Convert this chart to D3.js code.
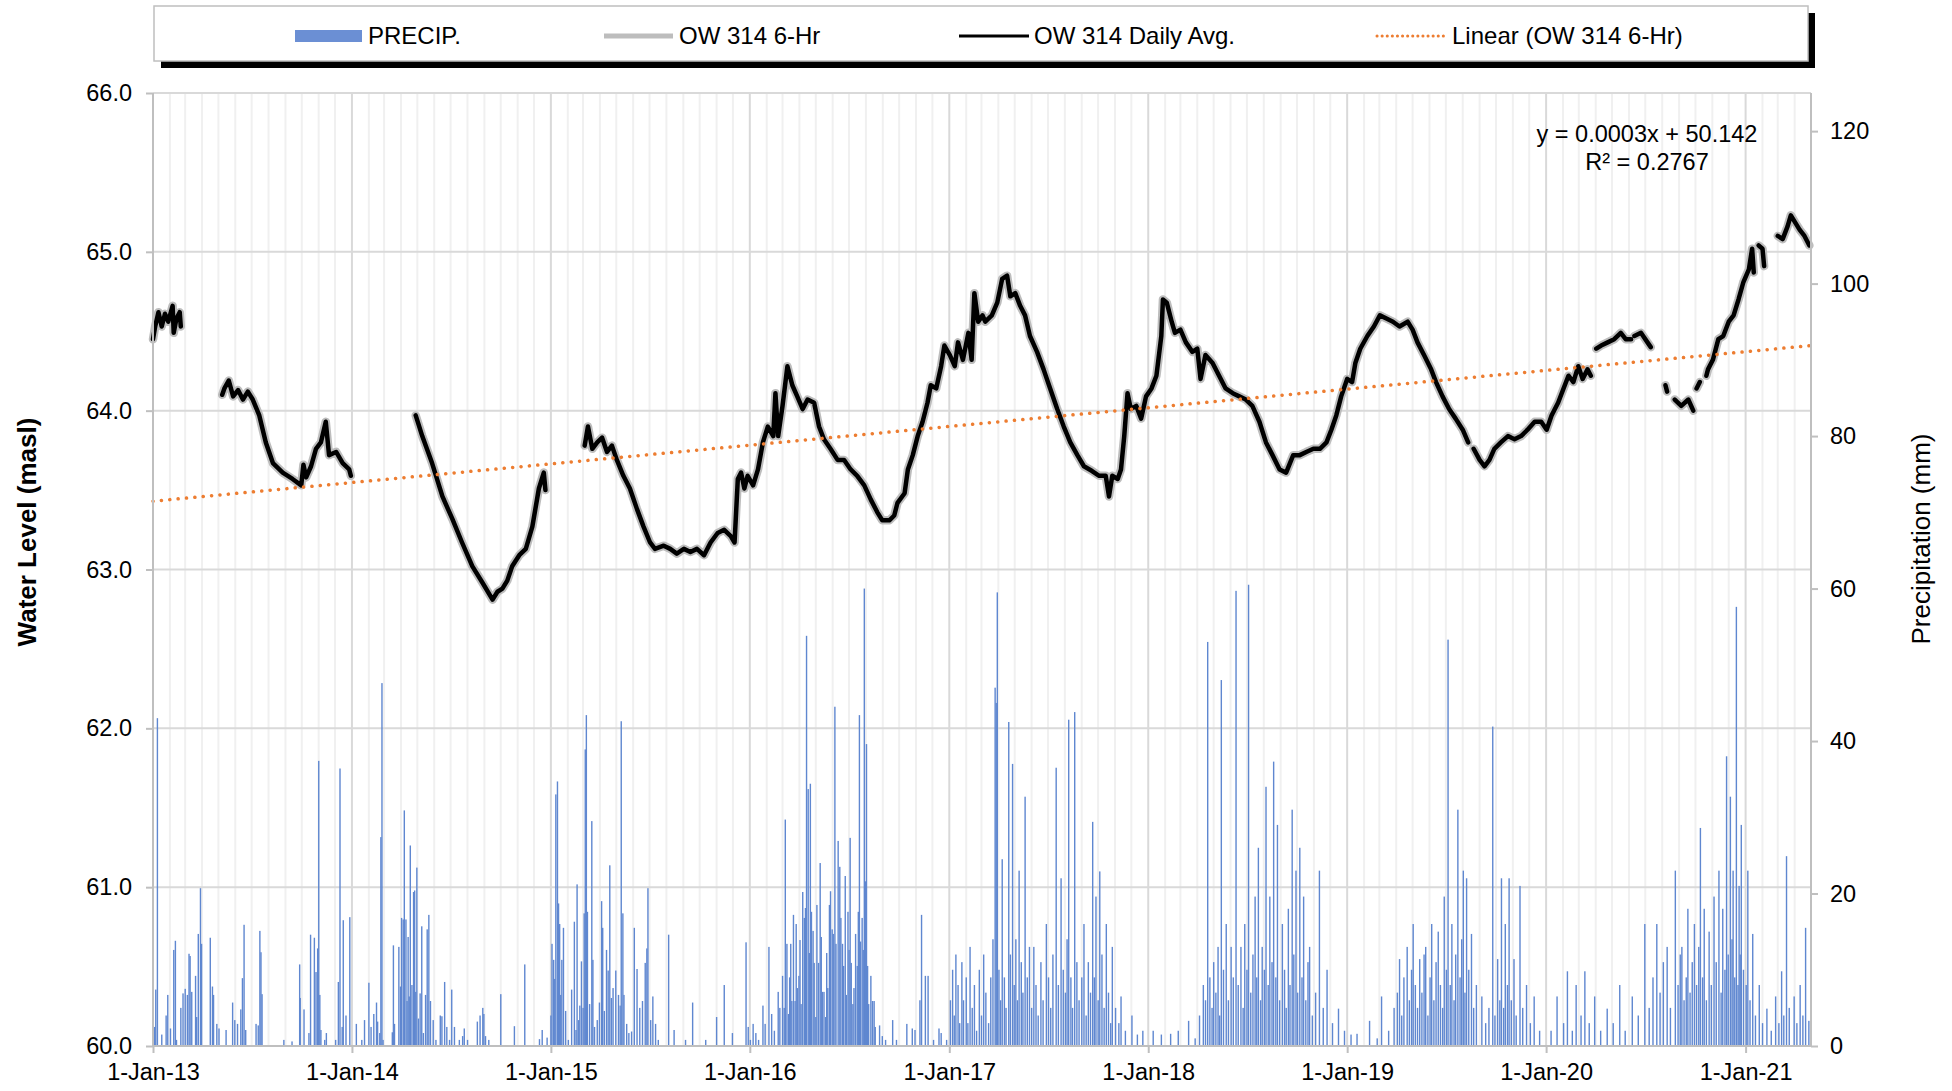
<!DOCTYPE html>
<html>
<head>
<meta charset="utf-8">
<script src="https://cdn.jsdelivr.net/npm/d3@7"></script>
<style>
html,body{margin:0;padding:0;background:#fff;}
svg{display:block;}
</style>
</head>
<body>
<svg id="chart" width="1952" height="1091"></svg>
<script>
// ---------------- DATA ----------------
// Water level, OW 314 daily average (masl); null = data gap
const owDaily = [
["2013-01-01",64.45],["2013-01-05",64.53],["2013-01-11",64.62],["2013-01-17",64.53],["2013-01-23",64.61],["2013-01-29",64.56],["2013-02-06",64.66],["2013-02-08",64.49],["2013-02-13",64.58],["2013-02-19",64.62],["2013-02-21",64.53],["2013-02-22",null],
["2013-05-08",64.10],["2013-05-12",64.14],["2013-05-20",64.19],["2013-05-28",64.09],["2013-06-06",64.13],["2013-06-15",64.07],["2013-06-24",64.12],["2013-07-03",64.07],["2013-07-15",63.97],["2013-07-27",63.80],["2013-08-09",63.67],["2013-08-27",63.61],["2013-09-14",63.57],["2013-09-30",63.53],["2013-10-04",63.66],["2013-10-09",63.58],["2013-10-18",63.65],["2013-10-27",63.76],["2013-11-05",63.80],["2013-11-14",63.93],["2013-11-20",63.72],["2013-12-03",63.74],["2013-12-15",63.67],["2013-12-27",63.63],["2013-12-30",63.59],["2013-12-31",null],
["2014-04-28",63.97],["2014-05-10",63.84],["2014-05-28",63.67],["2014-06-16",63.46],["2014-07-04",63.32],["2014-07-22",63.17],["2014-08-10",63.02],["2014-08-28",62.92],["2014-09-16",62.81],["2014-09-25",62.86],["2014-10-04",62.88],["2014-10-13",62.93],["2014-10-22",63.02],["2014-11-04",63.09],["2014-11-16",63.13],["2014-11-28",63.27],["2014-12-10",63.51],["2014-12-19",63.61],["2014-12-22",63.50],["2014-12-23",null],
["2015-03-04",63.78],["2015-03-10",63.90],["2015-03-18",63.76],["2015-03-27",63.80],["2015-04-05",63.83],["2015-04-14",63.74],["2015-04-23",63.78],["2015-05-02",63.69],["2015-05-14",63.59],["2015-05-26",63.51],["2015-06-08",63.38],["2015-06-20",63.27],["2015-07-02",63.17],["2015-07-11",63.13],["2015-07-27",63.15],["2015-08-08",63.13],["2015-08-20",63.10],["2015-09-02",63.13],["2015-09-14",63.11],["2015-09-26",63.13],["2015-10-09",63.09],["2015-10-21",63.17],["2015-11-03",63.23],["2015-11-15",63.25],["2015-11-27",63.21],["2015-12-04",63.17],["2015-12-10",63.57],["2015-12-16",63.61],["2015-12-22",63.51],["2015-12-28",63.59],
["2016-01-07",63.53],["2016-01-16",63.63],["2016-01-25",63.80],["2016-02-03",63.90],["2016-02-13",63.84],["2016-02-17",64.11],["2016-02-22",63.84],["2016-03-01",64.03],["2016-03-10",64.28],["2016-03-19",64.16],["2016-03-28",64.09],["2016-04-07",64.01],["2016-04-16",64.07],["2016-04-28",64.05],["2016-05-07",63.90],["2016-05-16",63.82],["2016-05-28",63.76],["2016-06-10",63.69],["2016-06-22",63.69],["2016-07-04",63.63],["2016-07-16",63.59],["2016-07-29",63.53],["2016-08-10",63.44],["2016-08-22",63.36],["2016-08-31",63.31],["2016-09-13",63.31],["2016-09-22",63.34],["2016-09-28",63.42],["2016-10-11",63.48],["2016-10-17",63.63],["2016-10-26",63.72],["2016-11-04",63.84],["2016-11-13",63.93],["2016-11-22",64.05],["2016-11-28",64.16],["2016-12-08",64.14],["2016-12-17",64.28],["2016-12-23",64.41],
["2017-01-02",64.35],["2017-01-11",64.28],["2017-01-17",64.43],["2017-01-26",64.32],["2017-02-05",64.49],["2017-02-11",64.32],["2017-02-16",64.74],["2017-02-23",64.56],["2017-03-03",64.60],["2017-03-08",64.56],["2017-03-20",64.60],["2017-03-30",64.68],["2017-04-08",64.83],["2017-04-17",64.85],["2017-04-23",64.72],["2017-05-02",64.74],["2017-05-11",64.66],["2017-05-20",64.60],["2017-05-29",64.47],["2017-06-11",64.37],["2017-06-23",64.26],["2017-07-05",64.14],["2017-07-18",64.01],["2017-07-30",63.90],["2017-08-11",63.80],["2017-08-24",63.72],["2017-09-05",63.65],["2017-09-20",63.62],["2017-10-03",63.59],["2017-10-15",63.59],["2017-10-21",63.46],["2017-10-27",63.59],["2017-11-06",63.57],["2017-11-12",63.63],["2017-11-18",63.84],["2017-11-24",64.11],["2017-11-30",64.01],["2017-12-10",64.03],["2017-12-19",63.95],["2017-12-28",64.09],
["2018-01-07",64.14],["2018-01-16",64.22],["2018-01-25",64.47],["2018-01-28",64.70],["2018-02-04",64.68],["2018-02-13",64.56],["2018-02-19",64.49],["2018-03-01",64.51],["2018-03-11",64.43],["2018-03-23",64.37],["2018-04-01",64.39],["2018-04-07",64.20],["2018-04-16",64.35],["2018-04-29",64.30],["2018-05-11",64.22],["2018-05-23",64.14],["2018-06-05",64.11],["2018-06-17",64.09],["2018-06-29",64.07],["2018-07-11",64.03],["2018-07-24",63.93],["2018-08-05",63.80],["2018-08-17",63.72],["2018-08-30",63.63],["2018-09-11",63.61],["2018-09-24",63.72],["2018-10-06",63.72],["2018-10-18",63.74],["2018-10-31",63.76],["2018-11-12",63.76],["2018-11-24",63.80],["2018-12-03",63.88],["2018-12-12",63.97],["2018-12-21",64.09],
["2019-01-01",64.20],["2019-01-10",64.18],["2019-01-16",64.30],["2019-01-25",64.39],["2019-02-07",64.47],["2019-02-19",64.53],["2019-03-02",64.60],["2019-03-14",64.58],["2019-03-26",64.56],["2019-04-07",64.53],["2019-04-22",64.56],["2019-05-01",64.51],["2019-05-10",64.43],["2019-05-22",64.35],["2019-06-04",64.26],["2019-06-13",64.18],["2019-06-25",64.09],["2019-07-07",64.01],["2019-07-19",63.95],["2019-08-01",63.88],["2019-08-11",63.80],["2019-08-14",null],
["2019-08-21",63.76],["2019-09-01",63.69],["2019-09-10",63.65],["2019-09-19",63.69],["2019-09-28",63.76],["2019-10-10",63.80],["2019-10-23",63.84],["2019-11-04",63.82],["2019-11-16",63.84],["2019-11-28",63.88],["2019-12-11",63.93],["2019-12-23",63.93],
["2020-01-02",63.88],["2020-01-11",63.97],["2020-01-23",64.05],["2020-02-02",64.14],["2020-02-11",64.22],["2020-02-20",64.18],["2020-02-29",64.28],["2020-03-08",64.20],["2020-03-17",64.26],["2020-03-23",64.22],["2020-03-27",null],
["2020-04-02",64.39],["2020-04-11",64.41],["2020-04-23",64.43],["2020-05-05",64.45],["2020-05-17",64.49],["2020-05-26",64.45],["2020-06-05",64.45],["2020-06-08",null],["2020-06-11",64.47],["2020-06-23",64.49],["2020-07-05",64.43],["2020-07-11",64.40],["2020-07-14",null],
["2020-08-07",64.16],["2020-08-10",64.12],["2020-08-14",null],["2020-08-24",64.07],["2020-09-05",64.03],["2020-09-18",64.07],["2020-09-27",64.00],["2020-09-30",null],["2020-10-03",64.14],["2020-10-09",64.18],["2020-10-14",null],
["2020-10-21",64.22],["2020-10-24",64.26],["2020-11-02",64.32],["2020-11-12",64.45],["2020-11-21",64.47],["2020-12-01",64.56],["2020-12-10",64.60],["2020-12-19",64.70],["2020-12-28",64.81],["2021-01-07",64.89],["2021-01-13",65.02],["2021-01-16",64.87],["2021-01-19",null],
["2021-01-25",65.04],["2021-02-01",65.02],["2021-02-04",64.91],["2021-02-08",null],
["2021-03-01",65.10],["2021-03-10",65.08],["2021-03-19",65.16],["2021-03-25",65.23],["2021-04-01",65.19],["2021-04-10",65.14],["2021-04-19",65.10],["2021-04-28",65.04]
];
// OW 314 6-hour readings coincide with the daily average at this scale
const ow6hr = owDaily;

// Linear trend of the 6-hr series (end points)
const trendLine = [["2013-01-01",63.43],["2021-05-01",64.41]];
const trendEquation = "y = 0.0003x + 50.142";
const trendR2 = "R\u00B2 = 0.2767";

// Daily precipitation (mm): [month, day, mm]
const precip2013 = [[1,4,2.5],[1,6,7.4],[1,9,43],[1,17,1.5],[1,25,4],[1,28,6.7],[2,2,2.3],[2,8,12.6],[2,11,13.8],[2,13,0.8],[2,21,5],[2,25,6.9],[3,1,7.5],[3,5,6.7],[3,8,12.1],[3,10,11.8],[3,13,7.1],[3,20,9.2],[3,22,3.8],[3,25,14.7],[3,29,20.7],[3,31,13.4],[4,16,14.2],[4,20,7.8],[4,22,6.7],[4,28,2.9],[5,2,2.3],[5,15,2.1],[5,27,5.7],[5,31,3.4],[6,5,2.9],[6,11,4.8],[6,14,8.9],[6,17,15.9],[6,20,2.1],[7,9,2.9],[7,13,2.7],[7,16,15.1],[7,18,12.3],[7,20,6.8],[8,29,0.8],[9,13,0.6],[9,27,10.7],[9,28,6.3],[10,5,4.8],[10,14,1.7],[10,17,14.6],[10,24,14.2],[10,27,9.7],[10,30,12.8],[11,1,37.4],[11,3,6.7],[11,5,2.1],[11,12,0.8],[11,15,1.7],[12,2,0.8],[12,7,8.4],[12,10,36.4],[12,14,2.5],[12,16,16.5],[12,21,4],[12,28,16.9]];
const precip2014 = [[1,9,2.9],[1,19,0.8],[1,24,3.4],[2,1,8.3],[2,5,2.5],[2,10,4.2],[2,15,5.7],[2,17,3.2],[2,21,1.7],[2,23,27.4],[2,25,47.6],[2,27,0.8],[3,16,1.8],[3,18,13.2],[3,20,2.9],[3,28,13.0],[3,31,7.8],[4,2,16.8],[4,5,16.6],[4,7,30.9],[4,10,16.6],[4,12,5.9],[4,14,14.3],[4,16,6.5],[4,18,26.3],[4,21,8.0],[4,24,20.2],[4,26,20.4],[4,28,7.1],[4,30,23.4],[5,3,3.6],[5,6,6.9],[5,9,15.7],[5,12,1.7],[5,16,6.7],[5,19,15.3],[5,22,17.2],[5,25,5.9],[5,30,3.4],[6,4,0.8],[6,12,4.0],[6,15,3.9],[6,20,8.4],[6,24,2.5],[6,29,0.8],[7,3,7.4],[7,8,2.5],[7,17,0.8],[7,23,1.3],[7,26,2.3],[8,1,0.8],[8,19,3.2],[8,24,4.0],[8,29,5.0],[8,31,4.2],[9,3,1.3],[9,9,0.8],[10,1,6.8],[10,26,2.6],[11,14,10.7],[12,11,0.9],[12,16,2.1],[12,25,1.1]];
const precip2015 = [[1,1,4.0],[1,3,13.4],[1,6,11.3],[1,8,8.8],[1,10,33.0],[1,13,34.7],[1,15,18.7],[1,17,16.0],[1,19,6.7],[1,21,11.3],[1,24,15.5],[1,28,4.6],[2,2,0.8],[2,8,7.4],[2,13,16.3],[2,16,2.1],[2,18,21.2],[2,21,3.4],[2,23,5.3],[2,26,11.1],[3,1,5.0],[3,3,17.4],[3,5,38.9],[3,7,43.4],[3,9,17.6],[3,13,5.5],[3,17,29.5],[3,19,11.3],[3,22,2.5],[3,27,3.4],[3,31,5.7],[4,4,19.0],[4,6,15.5],[4,9,4.6],[4,13,12.6],[4,16,9.9],[4,19,23.7],[4,22,6.3],[4,25,7.6],[4,30,9.9],[5,5,6.7],[5,8,5.3],[5,10,42.6],[5,13,17.4],[5,15,6.7],[5,20,2.9],[5,24,1.7],[5,29,1.9],[6,3,15.5],[6,8,10.1],[6,13,5.0],[6,18,5.9],[6,23,10.9],[6,26,12.8],[6,28,20.7],[7,3,3.4],[7,7,6.5],[7,12,2.9],[7,17,0.8],[8,5,14.6],[8,15,2.1],[9,5,0.8],[9,18,5.7],[10,12,0.8],[11,1,3.8],[11,15,8.0],[11,30,1.7],[12,25,13.6],[12,29,2.5]];
const precip2016 = [[1,2,0.8],[1,7,2.9],[1,12,1.7],[1,17,0.8],[1,25,5.3],[1,29,2.9],[2,5,13.0],[2,10,4.2],[2,15,2.0],[2,22,7.1],[2,25,5.0],[3,1,9.2],[3,4,5.0],[3,6,29.7],[3,9,13.4],[3,12,4.2],[3,14,9.0],[3,16,13.4],[3,18,5.9],[3,21,17.2],[3,24,5.9],[3,26,16.0],[3,28,7.6],[3,31,9.2],[4,2,13.9],[4,4,5.5],[4,7,20.2],[4,10,16.8],[4,12,18.1],[4,14,53.8],[4,17,33.7],[4,19,12.2],[4,21,34.4],[4,23,17.6],[4,26,15.1],[4,28,10.9],[5,1,3.8],[5,3,18.5],[5,6,10.9],[5,9,24.0],[5,11,14.3],[5,13,7.1],[5,16,7.1],[5,19,3.8],[5,21,12.2],[5,23,7.6],[5,26,18.5],[5,28,20.3],[5,31,15.3],[6,2,14.7],[6,5,44.5],[6,7,13.4],[6,11,26.9],[6,14,23.5],[6,16,16.8],[6,19,13.4],[6,21,10.5],[6,24,22.3],[6,26,6.7],[6,29,17.6],[7,1,12.6],[7,3,27.3],[7,5,10.9],[7,8,5.5],[7,10,7.6],[7,13,14.7],[7,16,10.5],[7,18,17.6],[7,20,43.4],[7,22,13.7],[7,25,16.8],[7,27,12.6],[7,29,60.0],[7,31,21.6],[8,2,39.6],[8,4,10.5],[8,6,5.5],[8,10,9.2],[8,13,5.9],[8,16,5.9],[8,18,2.5],[8,26,2.7],[8,31,1.3],[9,6,0.8],[9,19,3.4],[9,26,0.8],[10,15,2.9],[10,25,2.3],[10,30,2.1],[11,8,6.0],[11,11,17.2],[11,18,9.2],[11,23,9.2],[12,3,0.8],[12,13,2.3],[12,17,1.7],[12,27,0.8]];
const precip2017 = [[1,3,6],[1,7,10],[1,10,4],[1,13,12],[1,17,8],[1,20,3],[1,24,11],[1,27,6],[2,1,9],[2,4,3],[2,8,13],[2,12,5],[2,16,8],[2,20,2],[2,25,10],[3,1,4],[3,5,12],[3,9,7],[3,14,3],[3,18,9],[3,22,14],[3,26,47],[3,28,45],[3,30,59.5],[4,2,10],[4,5,6],[4,8,24.5],[4,12,9],[4,15,5],[4,20,42.5],[4,23,12],[4,27,37],[4,30,8],[5,3,14],[5,6,6],[5,9,23],[5,13,11],[5,16,7],[5,20,32.7],[5,24,9],[5,28,13],[6,1,5],[6,5,13],[6,9,8],[6,13,4],[6,18,11],[6,22,6],[6,28,16],[7,2,9],[7,6,5],[7,10,12],[7,16,36.5],[7,20,8],[7,25,22],[7,29,10],[8,2,7],[8,5,14],[8,8,42.8],[8,12,9],[8,15,5],[8,19,43.8],[8,23,11],[8,27,6],[9,1,9],[9,5,16],[9,9,4],[9,13,11],[9,17,7],[9,21,29.4],[9,24,9],[9,27,19.6],[10,1,6],[10,4,22.9],[10,8,12],[10,12,5],[10,16,16],[10,20,7],[10,24,3],[10,27,13],[11,2,5],[11,8,3],[11,12,6.5],[11,20,2],[12,2,4],[12,12,1.5],[12,22,2]];
const precip2018 = [[1,10,2],[1,25,1.5],[2,11,1.6],[2,25,2],[3,16,3.3],[3,28,1],[4,5,4],[4,12,8],[4,16,6],[4,20,53],[4,24,9],[4,28,5],[5,1,11],[5,5,7],[5,9,13],[5,12,4],[5,15,48],[5,19,10],[5,24,16],[5,28,6],[6,2,13],[6,6,9],[6,11,59.7],[6,15,8],[6,20,13],[6,24,5],[6,27,16],[7,1,10],[7,4,60.5],[7,8,7],[7,12,12],[7,16,19.6],[7,19,9],[7,22,26],[7,26,6],[7,29,13],[8,2,10],[8,5,34],[8,9,8],[8,12,19.6],[8,16,11],[8,19,37.3],[8,23,9],[8,26,29],[8,30,6],[9,4,16],[9,8,10],[9,11,5],[9,15,18],[9,18,8],[9,22,31],[9,25,12],[9,29,23],[10,2,7],[10,6,26],[10,10,9],[10,13,19.6],[10,17,6],[10,21,11],[10,24,13],[10,29,4],[11,4,7],[11,11,23],[11,18,5],[11,25,10],[12,5,3],[12,16,4.9],[12,27,2]];
const precip2019 = [[1,8,1.5],[1,19,1.6],[2,11,3.3],[2,25,1],[3,5,6.5],[3,18,2],[3,28,5],[4,3,7],[4,7,11.4],[4,11,4],[4,15,9],[4,21,13],[4,25,6],[4,29,10],[5,2,16],[5,6,8],[5,10,5],[5,14,11.4],[5,18,7],[5,22,12],[5,25,13],[5,29,4],[6,2,9],[6,5,16],[6,9,6],[6,13,11],[6,17,15],[6,21,8],[6,25,5],[6,28,19.6],[7,2,10],[7,5,53.3],[7,9,8],[7,12,16],[7,16,6],[7,19,12],[7,23,31],[7,27,9],[7,30,14],[8,2,23],[8,5,7],[8,8,22],[8,12,10],[8,17,14.7],[8,21,5],[8,26,8],[9,5,6.5],[9,12,3],[9,18,5],[9,25,41.9],[9,29,4],[10,4,11.4],[10,8,6],[10,11,22],[10,15,5],[10,18,16],[10,22,8],[10,25,22],[10,29,6],[11,3,11.4],[11,7,4],[11,14,21],[11,19,5],[11,26,8],[12,3,3],[12,10,6.5],[12,20,2]];
const precip2020 = [[1,10,2],[1,21,6.5],[2,2,3],[2,9,9.8],[2,18,2],[2,25,8],[3,5,4],[3,12,9.8],[3,20,3],[3,30,6.5],[4,10,2],[4,22,4.9],[5,3,3],[5,15,8],[5,25,2],[6,7,6.5],[6,18,4],[6,30,16],[7,8,5],[7,15,9],[7,22,16],[7,28,7],[8,3,11],[8,10,13],[8,16,5],[8,25,23],[8,30,8],[9,3,12],[9,6,13],[9,10,6],[9,14,9],[9,17,18],[9,21,7],[9,25,11],[9,29,16],[10,3,8],[10,7,13],[10,10,28.6],[10,14,9],[10,17,18],[10,21,6],[10,26,15],[10,30,8],[11,4,19.6],[11,8,11],[11,13,23],[11,17,7],[11,20,18],[11,24,10],[11,27,38],[11,30,12],[12,4,32.7],[12,7,14],[12,9,23],[12,12,9],[12,15,57.6],[12,18,8],[12,20,21],[12,22,12],[12,24,29],[12,28,10]];
const precip2021 = [[1,2,8],[1,5,23],[1,9,6],[1,14,14.7],[1,19,4],[1,26,8],[2,1,3],[2,9,4.9],[2,17,2],[2,25,6.5],[3,3,3],[3,8,9.8],[3,12,4],[3,17,24.9],[3,22,5],[3,31,6.5],[4,5,3],[4,11,8],[4,16,4],[4,21,15.5],[4,27,3.3]];

// Axis ticks
const levelTicks = [60,61,62,63,64,65,66];
const precipTicks = [0,20,40,60,80,100,120];
const yearTicks = [2013,2014,2015,2016,2017,2018,2019,2020,2021];
const yearLabels = ["1-Jan-13","1-Jan-14","1-Jan-15","1-Jan-16","1-Jan-17","1-Jan-18","1-Jan-19","1-Jan-20","1-Jan-21"];
const legendLabels = ["PRECIP.","OW 314 6-Hr","OW 314 Daily Avg.","Linear (OW 314 6-Hr)"];

// ---------------- DRAW ----------------
const FONT = "'Liberation Sans', Arial, Helvetica, sans-serif";
const C = {precip:"#5f87d0", six:"#bdbdbd", daily:"#000000", trend:"#ed7d31", grid:"#d9d9d9", minor:"#f0f0f0", axis:"#bfbfbf"};
const L = 153, R = 1811, T = 93, B = 1046;

const svg = d3.select("#chart");
const parse = d3.utcParse("%Y-%m-%d");
const x = d3.scaleUtc().domain([Date.UTC(2013,0,1), Date.UTC(2021,4,1)]).range([L,R]);
const yL = d3.scaleLinear().domain([60,66]).range([B,T]);
const yR = d3.scaleLinear().domain([0,125]).range([B,T]);

// minor monthly gridlines
const months = d3.utcMonth.range(new Date(Date.UTC(2013,1,1)), new Date(Date.UTC(2021,4,1)))
  .filter(d => d.getUTCMonth() !== 0);
svg.append("g").selectAll("line").data(months).join("line")
  .attr("x1", d => x(d)).attr("x2", d => x(d)).attr("y1", T).attr("y2", B)
  .attr("stroke", C.minor).attr("stroke-width", 2);
// major gridlines
svg.append("g").selectAll("line").data(yearTicks.slice(1)).join("line")
  .attr("x1", d => x(Date.UTC(d,0,1))).attr("x2", d => x(Date.UTC(d,0,1))).attr("y1", T).attr("y2", B)
  .attr("stroke", C.grid).attr("stroke-width", 2);
svg.append("g").selectAll("line").data(levelTicks.slice(1)).join("line")
  .attr("x1", L).attr("x2", R).attr("y1", d => yL(d)).attr("y2", d => yL(d))
  .attr("stroke", C.grid).attr("stroke-width", 2);

// precipitation bars
const precipAll = [];
[[2013,precip2013],[2014,precip2014],[2015,precip2015],[2016,precip2016],[2017,precip2017],
 [2018,precip2018],[2019,precip2019],[2020,precip2020],[2021,precip2021]].forEach(([yr, arr]) => {
  arr.forEach(([m, d, v]) => precipAll.push({date: new Date(Date.UTC(yr, m-1, d)), v}));
});
svg.append("g").selectAll("rect").data(precipAll).join("rect")
  .attr("x", d => x(d.date) - 0.65).attr("width", 1.4)
  .attr("y", d => yR(d.v)).attr("height", d => yR(0) - yR(d.v))
  .attr("fill", C.precip);

// water level lines
const lvl = owDaily.map(([d, v]) => ({date: parse(d), v}));
const lvl6 = ow6hr.map(([d, v]) => ({date: parse(d), v}));
const line = d3.line().defined(d => d.v !== null).x(d => x(d.date)).y(d => yL(d.v));
svg.append("path").datum(lvl6).attr("d", line).attr("fill","none")
  .attr("stroke", C.six).attr("stroke-width", 8.5).attr("stroke-linejoin","round").attr("stroke-linecap","round");
svg.append("path").datum(lvl).attr("d", line).attr("fill","none")
  .attr("stroke", C.daily).attr("stroke-width", 4.5).attr("stroke-linejoin","round").attr("stroke-linecap","round");

// trend
const tr = trendLine.map(([d, v]) => ({date: parse(d), v}));
svg.append("path").datum(tr).attr("d", d3.line().x(d => x(d.date)).y(d => yL(d.v)))
  .attr("fill","none").attr("stroke", C.trend).attr("stroke-width", 3.5)
  .attr("stroke-dasharray","0.1 8.3").attr("stroke-linecap","round");

// axes lines
svg.append("line").attr("x1",L).attr("x2",L).attr("y1",T).attr("y2",B).attr("stroke",C.axis).attr("stroke-width",2);
svg.append("line").attr("x1",R).attr("x2",R).attr("y1",T).attr("y2",B).attr("stroke",C.axis).attr("stroke-width",2);
svg.append("line").attr("x1",L).attr("x2",R).attr("y1",B).attr("y2",B).attr("stroke",C.axis).attr("stroke-width",2);

// left axis
const gl = svg.append("g").attr("transform", `translate(${L},0)`)
  .call(d3.axisLeft(yL).tickValues(levelTicks).tickFormat(d3.format(".1f")).tickSize(7).tickPadding(14));
// right axis
const gr = svg.append("g").attr("transform", `translate(${R},0)`)
  .call(d3.axisRight(yR).tickValues(precipTicks).tickSize(7).tickPadding(12));
// bottom axis
const gb = svg.append("g").attr("transform", `translate(0,${B})`)
  .call(d3.axisBottom(x).tickValues(yearTicks.map(yv => new Date(Date.UTC(yv,0,1))))
    .tickFormat((d,i) => yearLabels[i]).tickSize(7).tickPadding(10));
[gl, gr, gb].forEach(g => {
  g.select(".domain").remove();
  g.selectAll(".tick line").attr("stroke", C.axis).attr("stroke-width", 2);
  g.selectAll(".tick text").attr("fill","#000").style("font-family",FONT).style("font-size","23.5px");
});

// axis titles
svg.append("text").attr("transform","translate(27,532) rotate(-90)")
  .attr("text-anchor","middle").attr("dominant-baseline","central")
  .style("font-family",FONT).style("font-size","26px").style("font-weight","bold").text("Water Level (masl)");
svg.append("text").attr("transform","translate(1921,539) rotate(-90)")
  .attr("text-anchor","middle").attr("dominant-baseline","central")
  .style("font-family",FONT).style("font-size","26px").text("Precipitation (mm)");

// trend equation
svg.append("text").attr("x",1647).attr("y",142).attr("text-anchor","middle")
  .style("font-family",FONT).style("font-size","23.5px").text(trendEquation);
svg.append("text").attr("x",1647).attr("y",170).attr("text-anchor","middle")
  .style("font-family",FONT).style("font-size","23.5px").text(trendR2);

// legend
const lg = svg.append("g");
lg.append("rect").attr("x",161).attr("y",13).attr("width",1654).attr("height",55).attr("fill","#000");
lg.append("rect").attr("x",154).attr("y",6).attr("width",1654).attr("height",55).attr("fill","#fff")
  .attr("stroke","#bfbfbf").attr("stroke-width",1.5);
lg.append("rect").attr("x",295).attr("y",30).attr("width",67).attr("height",12).attr("fill","#6b8fd4");
lg.append("line").attr("x1",604).attr("x2",673).attr("y1",36).attr("y2",36).attr("stroke",C.six).attr("stroke-width",5);
lg.append("line").attr("x1",959).attr("x2",1029).attr("y1",36).attr("y2",36).attr("stroke",C.daily).attr("stroke-width",3);
lg.append("line").attr("x1",1377).attr("x2",1447).attr("y1",36).attr("y2",36).attr("stroke",C.trend)
  .attr("stroke-width",3).attr("stroke-dasharray","0.1 5").attr("stroke-linecap","round");
const lx = [368, 679, 1034, 1452];
lg.selectAll("text.lg").data(legendLabels).join("text").attr("class","lg")
  .attr("x",(d,i)=>lx[i]).attr("y",44)
  .style("font-family",FONT).style("font-size","24px").text(d=>d);
</script>
</body>
</html>
